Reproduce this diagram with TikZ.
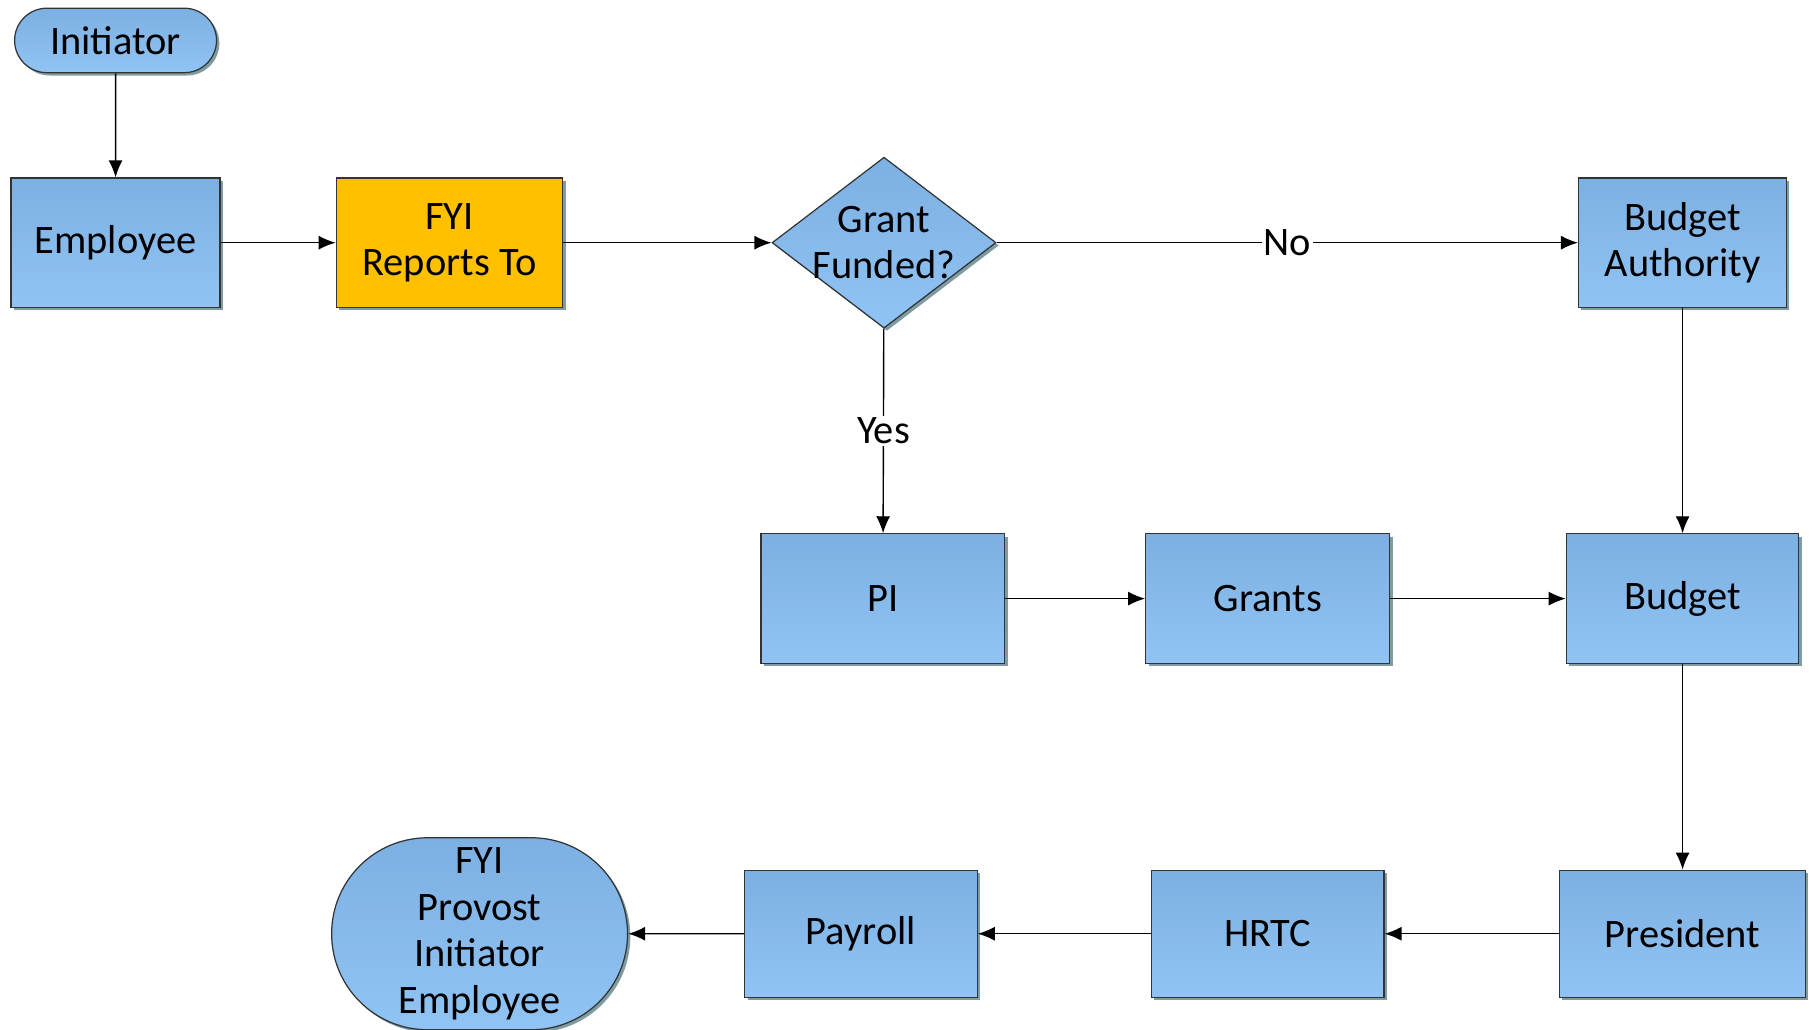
\documentclass[tikz,border=0pt]{standalone}
\usepackage{fontspec}
\setmainfont{Carlito}
\usetikzlibrary{shapes.geometric,shapes.misc,shadows,arrows.meta}
\definecolor{boxtop}{HTML}{7DB0E2}
\definecolor{boxbot}{HTML}{90C4F4}
\definecolor{fyiorange}{HTML}{FFC000}
\definecolor{shadowgrey}{HTML}{7F9CA3}
\begin{document}
\begin{tikzpicture}[
  x=0.023112cm, y=-0.023112cm,
  every node/.style={font=\fontsize{23}{26.5}\selectfont, align=center},
  box_style/.style={draw=black!80, line width=0.7pt, top color=boxtop, bottom color=boxbot, minimum height=2.59cm, inner sep=2pt,
    drop shadow={shadow xshift=1.6pt, shadow yshift=-1.6pt, fill=shadowgrey, opacity=1}},
  fyi_style/.style={box_style, top color=fyiorange, bottom color=fyiorange},
  term_style/.style={box_style, rounded rectangle, rounded rectangle arc length=180},
  decision_style/.style={box_style, diamond, minimum width=4.48cm, minimum height=3.42cm, inner sep=0pt},
  arrow_style/.style={-{Latex[length=3.4mm,width=2.8mm]}, line width=0.8pt},
  answer_style/.style={midway, fill=white, inner sep=1pt} % Yes / No on the lines
]
\useasboundingbox (0,0) rectangle (1568,891);

% Top row
\node[term_style, minimum width=4.18cm, minimum height=1.29cm] (initiator) at (100,35) {Initiator};
\node[box_style, minimum width=4.18cm] (employee) at (100,210) {Employee};
\node[fyi_style, minimum width=4.53cm] (fyi) at (389,210) {FYI\\Reports To};
\node[decision_style, label={center:Grant\\Funded?}] (grant) at (765,210) {};
\node[box_style, minimum width=4.16cm] (budauth) at (1456,210) {Budget\\Authority};

% Middle row
\node[box_style, minimum width=4.88cm] (pi) at (764,518) {PI};
\node[box_style, minimum width=4.88cm] (grants) at (1097,518) {Grants};
\node[box_style, minimum width=4.65cm] (budget) at (1456,518) {Budget};

% Bottom row
\node[box_style, minimum width=4.92cm, minimum height=2.54cm] (president) at (1456,808) {President};
\node[box_style, minimum width=4.65cm, minimum height=2.54cm] (hrtc) at (1097,808) {HRTC};
\node[box_style, minimum width=4.65cm, minimum height=2.54cm] (payroll) at (745,808) {Payroll};
\node[term_style, minimum width=6.06cm, minimum height=3.84cm] (fyiend) at (415,808) {FYI\\Provost\\Initiator\\Employee};

% Connectors
\draw[arrow_style] (initiator) -- (employee);
\draw[arrow_style] (employee) -- (fyi);
\draw[arrow_style] (fyi) -- (grant);
\draw[arrow_style] (grant) -- node[answer_style] {No} (budauth);
\draw[arrow_style] (grant) -- node[answer_style] {Yes} (pi);
\draw[arrow_style] (budauth) -- (budget);
\draw[arrow_style] (pi) -- (grants);
\draw[arrow_style] (grants) -- (budget);
\draw[arrow_style] (budget) -- (president);
\draw[arrow_style] (president) -- (hrtc);
\draw[arrow_style] (hrtc) -- (payroll);
\draw[arrow_style] (payroll) -- (fyiend);
\end{tikzpicture}
\end{document}
